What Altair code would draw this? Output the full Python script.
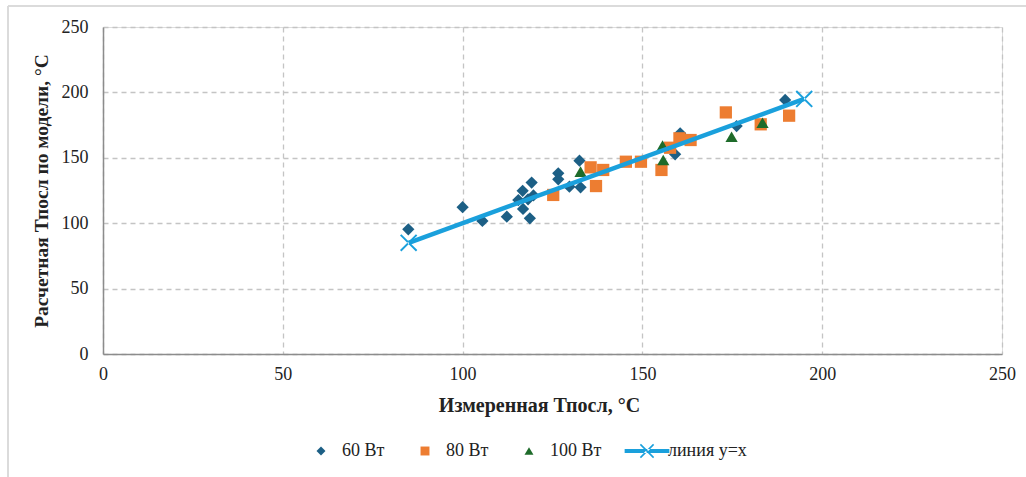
import altair as alt
import pandas as pd

# 60 W
x60 = [84.9, 100.0, 105.5, 112.3, 116.7, 119.2, 115.5, 119.7, 118.2, 116.8, 118.7,
       126.6, 126.6, 129.7, 132.5, 132.8, 160.5, 159.1, 176.2, 189.7]
y60 = [95.3, 112.2, 101.7, 105.0, 124.8, 131.1, 117.7, 121.2, 118.3, 110.9, 103.7,
       138.1, 133.6, 127.9, 147.8, 127.4, 168.7, 152.7, 174.3, 194.2]
# 80 W
x80 = [125.2, 135.6, 139.1, 137.1, 145.4, 149.6, 155.3, 157.7, 160.3, 163.4, 173.2, 182.9, 190.8]
y80 = [121.6, 142.7, 140.7, 128.4, 147.0, 147.0, 140.7, 157.7, 164.9, 163.6, 184.7, 175.6, 182.2]
# 100 W
x100 = [132.8, 155.6, 155.8, 174.8, 183.4]
y100 = [139.4, 159.3, 148.3, 166.1, 176.8]
# y = x line
line_x = [85, 195]
line_y = [85, 195]
line_name = "линия y=x"

tick_values = [0, 50, 100, 150, 200, 250]
series_names = ["60 Вт", "80 Вт", "100 Вт"]
series_colors = ["#1c5f85", "#ed7d31", "#1e6b2a"]
series_shapes = ["diamond", "square", "triangle-up"]
LINE_COLOR = "#1aa0dc"

# filled X marker
x_path = ("M-1,-0.84L-0.84,-1L1,0.84L0.84,1Z"
          "M-1,0.84L-0.84,1L1,-0.84L0.84,-1Z")
# legend symbol: line with X
legend_line_path = ("M-5,-0.45H5V0.45H-5Z"
                    "M-1.6,-1.35L-1.35,-1.6L1.6,1.35L1.35,1.6Z"
                    "M-1.6,1.35L-1.35,1.6L1.6,-1.35L1.35,-1.6Z")

rows = []
for name, xs, ys in [("60 Вт", x60, y60), ("80 Вт", x80, y80), ("100 Вт", x100, y100)]:
    for a, b in zip(xs, ys):
        rows.append({"x": a, "y": b, "series": name})
pts = pd.DataFrame(rows)
line_df = pd.DataFrame({"x": line_x, "y": line_y, "name": [line_name] * len(line_x)})

FONT = "Liberation Serif"

xscale = alt.Scale(domain=[0, 250], nice=False)
yscale = alt.Scale(domain=[0, 250], nice=False)

common = dict(grid=True, gridDash=[5, 4], gridColor="#c4c4c4", gridWidth=1.3,
              domainColor="#8c8c8c", domainWidth=1.5, ticks=False, labelFlush=False,
              labelFont=FONT, labelFontSize=18, labelColor="#222",
              titleFont=FONT, titleFontWeight="bold", titleColor="#222")
xaxis = alt.Axis(title="Измеренная Тпосл, °C", values=tick_values, labelPadding=11,
                 titlePadding=12, titleFontSize=20, titleX=436, **common)
yaxis = alt.Axis(title="Расчетная Тпосл по модели, °C", values=tick_values, labelPadding=15,
                 titlePadding=10, titleFontSize=19.5, **common)

legend = alt.Legend(title=None, orient="none", direction="horizontal",
                    legendX=209, legendY=415, labelFont=FONT, labelFontSize=18,
                    labelColor="#222", symbolSize=80, symbolStrokeWidth=0,
                    labelOffset=12, columnPadding=31, symbolOpacity=1)

legend_line = alt.Legend(title=None, orient="none", direction="horizontal",
                         legendX=535, legendY=415, labelFont=FONT, labelFontSize=18,
                         labelColor="#222", symbolSize=80, symbolStrokeWidth=0,
                         symbolType=legend_line_path, symbolFillColor=LINE_COLOR,
                         labelOffset=12)

points = alt.Chart(pts).mark_point(filled=True, opacity=1, size=150).encode(
    x=alt.X("x:Q", scale=xscale, axis=xaxis),
    y=alt.Y("y:Q", scale=yscale, axis=yaxis),
    color=alt.Color("series:N", scale=alt.Scale(domain=series_names, range=series_colors), legend=legend),
    shape=alt.Shape("series:N", scale=alt.Scale(domain=series_names, range=series_shapes), legend=legend),
)

line = alt.Chart(line_df).mark_line(color=LINE_COLOR, strokeWidth=4.5).encode(
    x=alt.X("x:Q", scale=xscale), y=alt.Y("y:Q", scale=yscale))
ends = alt.Chart(line_df).mark_point(filled=True, color=LINE_COLOR, size=300, shape=x_path).encode(
    x=alt.X("x:Q", scale=xscale), y=alt.Y("y:Q", scale=yscale),
    opacity=alt.Opacity("name:N", scale=alt.Scale(domain=[line_name], range=[1]), legend=legend_line))

# chart-area frame (top and left edges)
frame_top = alt.Chart(line_df).mark_rule(color="#d9d9d9", strokeWidth=1.5).encode(
    x=alt.value(-95), x2=alt.value(930), y=alt.value(-21))
frame_left = alt.Chart(line_df).mark_rule(color="#d9d9d9", strokeWidth=1.5).encode(
    x=alt.value(-95), y=alt.value(-21), y2=alt.value(450))

chart = alt.layer(frame_top, frame_left, points, line, ends).properties(
    width=899, height=327,
    autosize=alt.AutoSizeParams(type="none"),
    padding={"left": 103, "top": 27, "right": 24, "bottom": 123},
    background="white",
).configure_view(stroke=None).configure(font=FONT)

chart.save("out.html", embed_options={"renderer": "svg", "actions": False})
